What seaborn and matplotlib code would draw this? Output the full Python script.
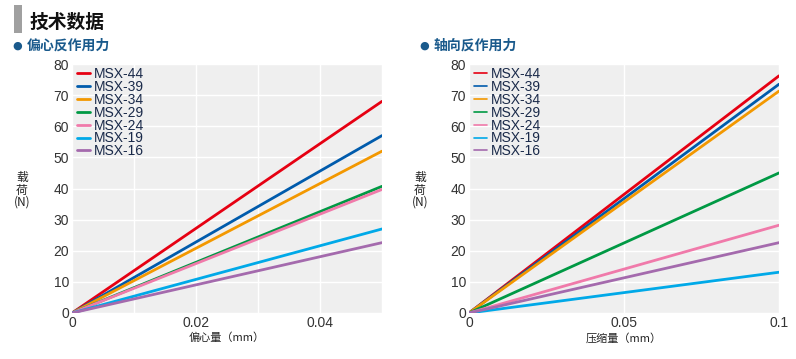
import matplotlib
matplotlib.use("Agg")
import matplotlib.pyplot as plt
import seaborn as sns
import pandas as pd
from matplotlib.patches import Rectangle

models = ["MSX-44", "MSX-39", "MSX-34", "MSX-29", "MSX-24", "MSX-19", "MSX-16"]
colors = ["#e60012", "#005bac", "#f39800", "#009944", "#f07aaa", "#00a9e8", "#a46aad"]

ecc_x = [0.0, 0.05]
ecc_end = [68, 57, 52, 40.7, 39.7, 27, 22.6]
axial_x = [0.0, 0.1]
axial_end = [76.2, 73.5, 71.3, 45, 28.2, 13.1, 22.6]

ecc_xticks = [0, 0.01, 0.02, 0.03, 0.04, 0.05]
ecc_xlabels = ["0", "", "0.02", "", "0.04", ""]
axial_xticks = [0, 0.05, 0.1]
axial_xlabels = ["0", "0.05", "0.1"]
yticks = [0, 10, 20, 30, 40, 50, 60, 70, 80]

sns.set_theme(style="darkgrid", rc={"axes.facecolor": "#efefef", "grid.color": "white",
                                    "grid.linewidth": 1.0})
plt.rcParams['font.family'] = ['Liberation Sans', 'Noto Sans CJK SC', 'DejaVu Sans']
cjk = ['Noto Sans CJK SC', 'DejaVu Sans']

def make_df(xs, ends):
    rows = []
    for m, e in zip(models, ends):
        rows.append({"x": xs[0], "y": 0.0, "model": m})
        rows.append({"x": xs[1], "y": e, "model": m})
    return pd.DataFrame(rows)

fig = plt.figure(figsize=(7.96, 3.59), dpi=100)
W, H = 796, 359
axL = fig.add_axes([72 / W, (H - 313) / H, 310 / W, 249 / H])
axR = fig.add_axes([469 / W, (H - 313) / H, 310 / W, 249 / H])

pal = dict(zip(models, colors))
for ax, xs, ends, xt, xl, xlabel, lw_leg in [
        (axL, ecc_x, ecc_end, ecc_xticks, ecc_xlabels, "偏心量（mm）", 2.0),
        (axR, axial_x, axial_end, axial_xticks, axial_xlabels, "压缩量（mm）", 1.2)]:
    df = make_df(xs, ends)
    sns.lineplot(data=df, x="x", y="y", hue="model", palette=pal, hue_order=models,
                 linewidth=2.0, ax=ax, legend=True)
    ax.set_xlim(xs[0], xs[1])
    ax.set_ylim(0, 80)
    ax.set_xticks(xt)
    ax.set_xticklabels(xl)
    ax.set_yticks(yticks)
    ax.tick_params(axis='both', labelsize=10, colors="#333333", pad=2, length=0)
    for s in ax.spines.values():
        s.set_visible(False)
    ax.set_xlabel(xlabel, fontsize=8, family=cjk, color="#222222", labelpad=2)
    ax.set_ylabel("")
    leg = ax.legend(loc="upper left", frameon=False, fontsize=10, handlelength=0.9,
                    handletextpad=0.3, labelspacing=-0.08, borderaxespad=0.0,
                    borderpad=0.0, bbox_to_anchor=(5 / 310, 1 - 3 / 249))
    for h in leg.get_lines():
        h.set_linewidth(lw_leg)
    for t in leg.get_texts():
        t.set_color("#1a2a4a")

# y labels
for xpos in (22, 420):
    fig.text(xpos / W, 1 - 190 / H, "载\n荷\n(N)", fontsize=8.5, family=cjk, ha="center",
             va="center", linespacing=0.95, color="#222222")

# header
fig.patches.append(Rectangle((14 / W, 1 - 33 / H), 8 / W, 28 / H, transform=fig.transFigure,
                             facecolor="#a0a0a0", edgecolor="none"))
fig.text(30 / W, 1 - 22 / H, "技术数据", fontsize=13.5, family=cjk, weight="bold",
         va="center", ha="left", color="#111111")
fig.text(12 / W, 1 - 46 / H, "●", fontsize=8, family=['DejaVu Sans'], va="center",
         ha="left", color="#1a5a8c")
fig.text(27 / W, 1 - 46 / H, "偏心反作用力", fontsize=10, family=cjk, weight="bold",
         va="center", ha="left", color="#1a5a8c")
fig.text(419 / W, 1 - 46 / H, "●", fontsize=8, family=['DejaVu Sans'], va="center",
         ha="left", color="#1a5a8c")
fig.text(434 / W, 1 - 46 / H, "轴向反作用力", fontsize=10, family=cjk, weight="bold",
         va="center", ha="left", color="#1a5a8c")

fig.savefig("out.png", dpi=100)
